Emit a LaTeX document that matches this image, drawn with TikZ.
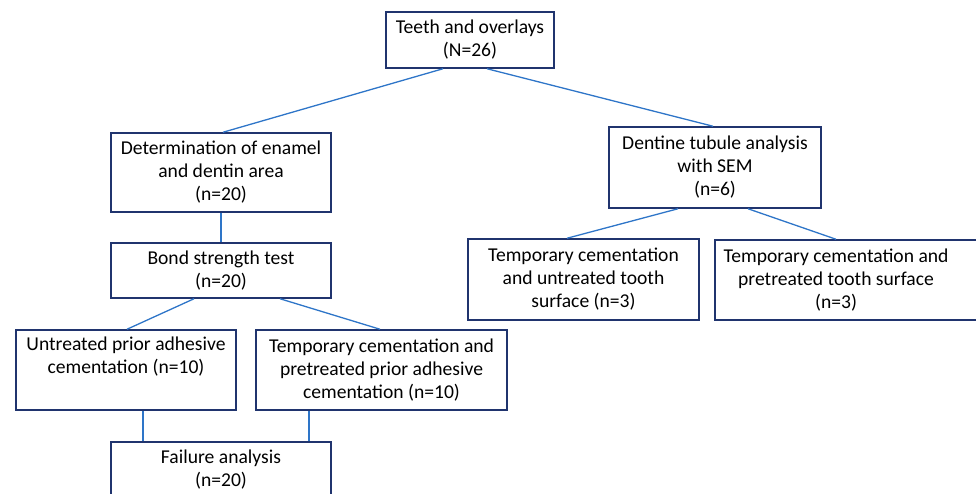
\documentclass[tikz,border=0pt]{standalone}
\usepackage{fontspec}
\setmainfont{Carlito}
\definecolor{boxline}{RGB}{32,52,110}
\definecolor{conn}{RGB}{46,117,200}
\begin{document}
\begin{tikzpicture}[x=1pt,y=-1pt,
  box/.style={draw=boxline,line width=1.5pt,fill=white,align=center,inner sep=0pt,
    font=\fontsize{19.6}{23}\selectfont},
  txt/.style={align=center,inner sep=0pt,font=\fontsize{19.6}{23}\selectfont},
  link/.style={draw=conn,line width=1.3pt}]
\useasboundingbox (0,0) rectangle (976,494);
\begin{scope}
\clip (0,0) rectangle (976,494);
\node[box,minimum width=168,minimum height=56] (a) at (470,40) {Teeth and overlays\\(N=26)};
\node[box,minimum width=220,minimum height=79] (b) at (221,172.5) {Determination of enamel\\and dentin area\\(n=20)};
\node[box,minimum width=220,minimum height=55] (c) at (221,270.5) {Bond strength test\\(n=20)};
\node[box,minimum width=220,minimum height=80] (d) at (126,370) {Untreated prior adhesive\\cementation (n=10)\\\strut};
\node[box,minimum width=251,minimum height=80] (e) at (381.5,370) {Temporary cementation and\\pretreated prior adhesive\\cementation (n=10)};
\node[box,minimum width=220,minimum height=55] (f) at (221,469.5) {Failure analysis\\(n=20)};
\node[box,minimum width=212,minimum height=81] (g) at (715,167.5) {Dentine tubule analysis\\with SEM\\(n=6)};
\node[box,minimum width=231,minimum height=81] (h) at (583.5,279.5) {Temporary cementation\\and untreated tooth\\surface (n=3)};
\node[box,minimum width=280,minimum height=80] (i) at (855,280) {};
\node[txt] (it) at (836,280) {Temporary cementation and\\pretreated tooth surface\\(n=3)};
\end{scope}
\path[link] (a.south -| 443,0) -- (b.north -| 223,0);
\path[link] (a.south -| 487,0) -- (g.north -| 713,0);
\path[link] (b.south) -- (c.north);
\path[link] (c.south -| 194,0) -- (d.north -| 127,0);
\path[link] (c.south -| 280,0) -- (e.north -| 380,0);
\path[link] (d.south -| 143,0) -- (f.north -| 143,0);
\path[link] (e.south -| 309,0) -- (f.north -| 309,0);
\path[link] (g.south -| 678,0) -- (h.north -| 567,0);
\path[link] (g.south -| 748,0) -- (i.north -| it);
\end{tikzpicture}
\end{document}
